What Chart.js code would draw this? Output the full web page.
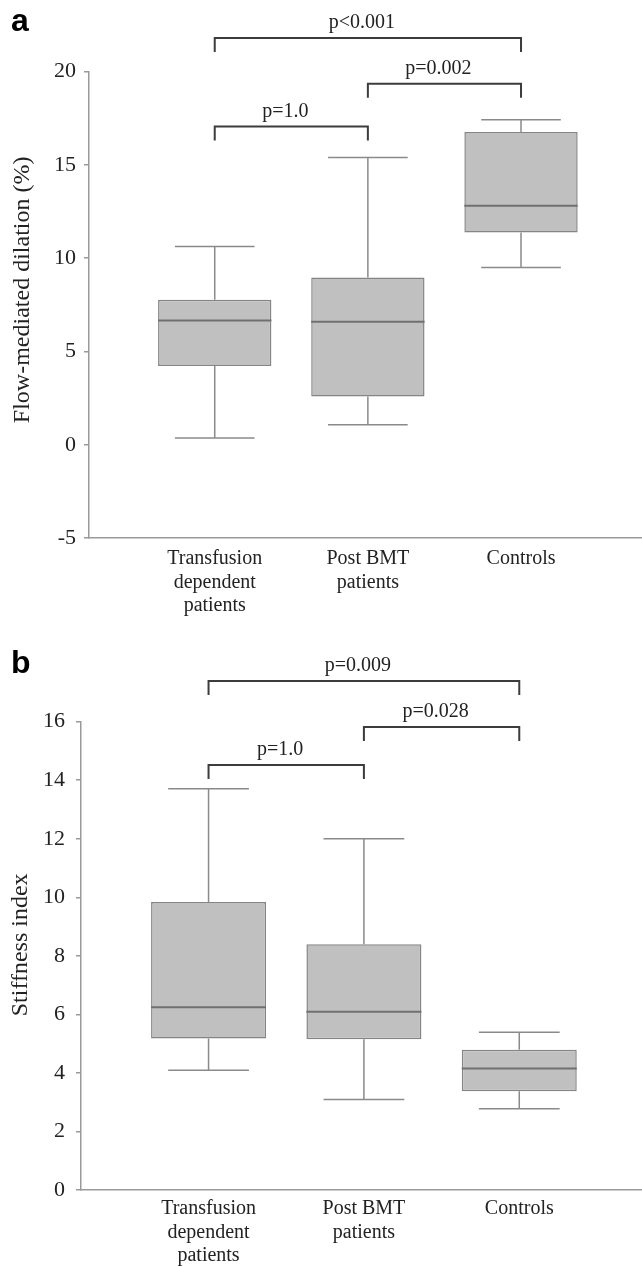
<!DOCTYPE html>
<html lang="en">
<head>
<meta charset="UTF-8">
<title>Flow-mediated dilation and stiffness index</title>
<script src="https://cdn.jsdelivr.net/npm/chart.js"></script>
<style>
  body { margin: 0; background: #fff; }
  .panel { position: absolute; left: 0; width: 642px; }
  #panelA { top: 0; height: 625px; }
  #panelB { top: 625px; height: 641px; }
</style>
</head>
<body>
<div class="panel" id="panelA"><canvas id="chartA"></canvas></div>
<div class="panel" id="panelB"><canvas id="chartB"></canvas></div>
<script>
const groups = [['Transfusion', 'dependent', 'patients'], ['Post BMT', 'patients'], ['Controls']];

// panel a - flow-mediated dilation (%)
const fmdMin = [0.36, 1.07, 9.50];
const fmdQ1 = [4.22, 2.59, 11.38];
const fmdMedian = [6.66, 6.59, 12.81];
const fmdQ3 = [7.77, 8.97, 16.77];
const fmdMax = [10.63, 15.40, 17.42];

// panel b - stiffness index
const siMin = [4.09, 3.09, 2.78];
const siQ1 = [5.18, 5.15, 3.37];
const siMedian = [6.24, 6.09, 4.15];
const siQ3 = [9.84, 8.40, 4.79];
const siMax = [13.71, 12.00, 5.39];

// significance brackets (group numbers, height in axis units)
const pairFrom = [1, 2, 1];
const pairTo = [3, 3, 2];
const fmdPLabels = ['p<0.001', 'p=0.002', 'p=1.0'];
const fmdPLevel = [21.81, 19.35, 17.06];
const siPLabels = ['p=0.009', 'p=0.028', 'p=1.0'];
const siPLevel = [17.39, 15.82, 14.52];

const serif = '"Liberation Serif", "Times New Roman", serif';
const ink = '#222';

const boxExtras = {
  id: 'boxExtras',
  afterDatasetsDraw(chart, args, o) {
    const { ctx, scales: { x, y } } = chart;
    ctx.save();
    ctx.lineWidth = 1.5;
    ctx.strokeStyle = '#8a8a8a';
    o.min.forEach((lo, i) => {
      const cx = x.getPixelForValue(i + 1);
      const half = x.getPixelForValue(i + 1 + 0.26) - cx;
      const segs = [[o.q1[i], lo], [o.q3[i], o.max[i]]];
      segs.forEach(([from, to]) => {
        ctx.beginPath();
        ctx.moveTo(cx, y.getPixelForValue(from));
        ctx.lineTo(cx, y.getPixelForValue(to));
        ctx.moveTo(cx - half, y.getPixelForValue(to));
        ctx.lineTo(cx + half, y.getPixelForValue(to));
        ctx.stroke();
      });
      // median
      const bh = x.getPixelForValue(i + 1 + 0.37) - cx;
      ctx.save();
      ctx.strokeStyle = '#707070';
      ctx.lineWidth = 2;
      ctx.beginPath();
      ctx.moveTo(cx - bh, y.getPixelForValue(o.median[i]));
      ctx.lineTo(cx + bh, y.getPixelForValue(o.median[i]));
      ctx.stroke();
      ctx.restore();
    });
    ctx.restore();
  },
  afterDraw(chart, args, o) {
    const { ctx, chartArea, scales: { x, y } } = chart;
    ctx.save();
    // brackets
    ctx.strokeStyle = '#3c3c3c';
    ctx.lineWidth = 2;
    ctx.fillStyle = ink;
    ctx.font = '20px ' + serif;
    ctx.textAlign = 'center';
    ctx.textBaseline = 'middle';
    o.labels.forEach((lab, i) => {
      const x1 = x.getPixelForValue(pairFrom[i]);
      const x2 = x.getPixelForValue(pairTo[i]);
      const yy = y.getPixelForValue(o.level[i]);
      ctx.beginPath();
      ctx.moveTo(x1, yy + 14);
      ctx.lineTo(x1, yy);
      ctx.lineTo(x2, yy);
      ctx.lineTo(x2, yy + 14);
      ctx.stroke();
      ctx.fillText(lab, (x1 + x2) / 2 - 6, yy - 15);
    });
    // axis title
    ctx.save();
    ctx.font = '24px ' + serif;
    ctx.translate(o.titleX, (chartArea.top + chartArea.bottom) / 2 + o.titleShift);
    ctx.rotate(-Math.PI / 2);
    ctx.fillText(o.title, 0, 0);
    ctx.restore();
    // panel letter
    ctx.font = 'bold 32px "Liberation Sans", Arial, sans-serif';
    ctx.textAlign = 'left';
    ctx.textBaseline = 'alphabetic';
    ctx.fillStyle = '#000';
    ctx.fillText(o.letter, 11, o.letterY);
    ctx.restore();
  }
};

function makeChart(id, c) {
  const canvas = document.getElementById(id);
  canvas.width = 642;
  canvas.height = c.height;
  canvas.style.width = '642px';
  canvas.style.height = c.height + 'px';
  return new Chart(canvas, {
    type: 'bar',
    data: {
      datasets: [{
        data: groups.map((g, i) => ({ x: i + 1, y: [c.q1[i], c.q3[i]] })),
        backgroundColor: '#c0c0c0',
        borderColor: '#858585',
        borderWidth: 1.5,
        borderSkipped: false,
        barPercentage: 1,
        categoryPercentage: 0.74
      }]
    },
    options: {
      responsive: false,
      animation: false,
      layout: { padding: { top: c.top, left: 0, right: 0, bottom: 0 } },
      plugins: {
        legend: { display: false },
        tooltip: { enabled: false },
        boxExtras: {
          min: c.min, q1: c.q1, median: c.median, q3: c.q3, max: c.max,
          labels: c.pLabels, level: c.pLevel,
          title: c.title, titleX: c.titleX, titleShift: c.titleShift,
          letter: c.letter, letterY: c.letterY
        }
      },
      scales: {
        x: {
          type: 'linear',
          offset: false,
          min: 0.179,
          max: 3.79,
          afterBuildTicks: s => { s.ticks = groups.map((g, i) => ({ value: i + 1 })); },
          afterFit: s => { s.height = c.xHeight; },
          grid: { display: false, drawTicks: false },
          border: { color: '#9a9a9a', width: 1.5 },
          ticks: {
            callback: (v, i) => groups[i],
            color: ink,
            padding: c.xPad,
            maxRotation: 0,
            autoSkip: false,
            font: { family: serif, size: 20, lineHeight: 1.175 }
          }
        },
        y: {
          min: c.yMin,
          max: c.yMax,
          afterFit: s => { s.width = c.yWidth; },
          grid: { drawOnChartArea: false, tickLength: 5, color: '#9a9a9a', lineWidth: 1.5 },
          border: { color: '#9a9a9a', width: 1.5 },
          ticks: {
            stepSize: c.step,
            color: ink,
            padding: c.yPad,
            font: { family: serif, size: 22 }
          }
        }
      }
    },
    plugins: [boxExtras]
  });
}

makeChart('chartA', {
  height: 625, top: 71.7, xHeight: 87, yWidth: 89, xPad: 9, yPad: 8,
  yMin: -5, yMax: 20, step: 5,
  min: fmdMin, q1: fmdQ1, median: fmdMedian, q3: fmdQ3, max: fmdMax,
  pLabels: fmdPLabels, pLevel: fmdPLevel,
  title: 'Flow-mediated dilation (%)', titleX: 22.5, titleShift: -15,
  letter: 'a', letterY: 31
});

makeChart('chartB', {
  height: 641, top: 96.7, xHeight: 76, yWidth: 81, xPad: 7, yPad: 11,
  yMin: 0, yMax: 16, step: 2,
  min: siMin, q1: siQ1, median: siMedian, q3: siQ3, max: siMax,
  pLabels: siPLabels, pLevel: siPLevel,
  title: 'Stiffness index', titleX: 21, titleShift: -11,
  letter: 'b', letterY: 48
});
</script>
</body>
</html>
